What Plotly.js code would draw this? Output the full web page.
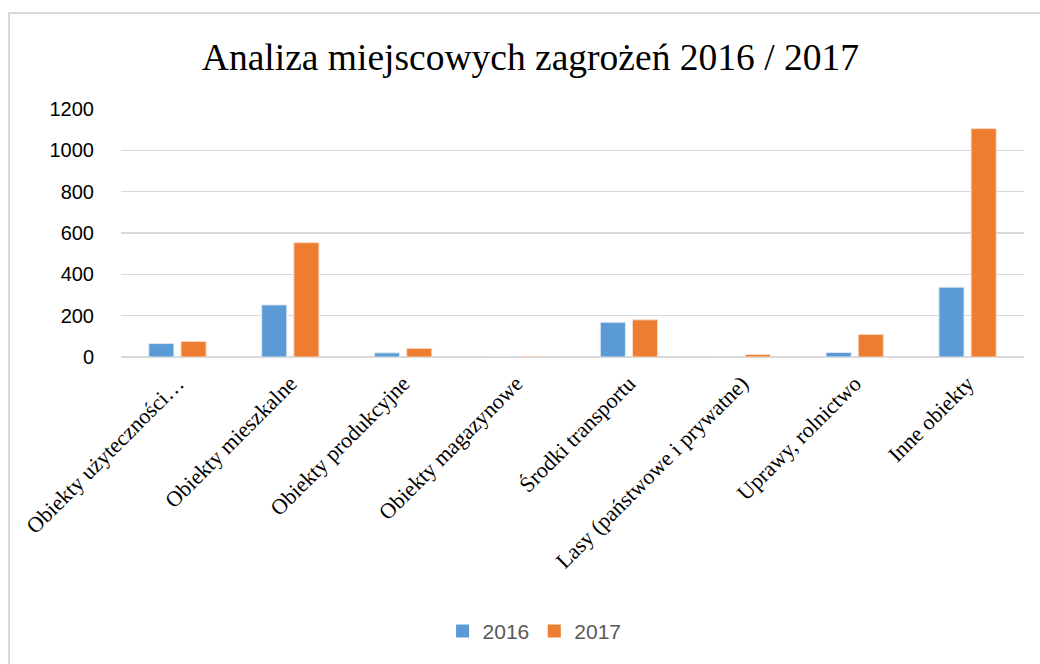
<!DOCTYPE html>
<html>
<head>
<meta charset="utf-8">
<script src="https://cdn.plot.ly/plotly-3.0.1.min.js"></script>
<style>
  body { margin: 0; background: #fff; }
  #graph { width: 1040px; height: 664px; }
  #frame {
    position: absolute; left: 8px; top: 12px; width: 1040px; height: 700px;
    border: 2px solid #d9d9d9; pointer-events: none;
  }
</style>
</head>
<body>
<div id="graph"></div>
<div id="frame"></div>
<script>
var categories = [
    "Obiekty użyteczności…",
    "Obiekty mieszkalne",
    "Obiekty produkcyjne",
    "Obiekty magazynowe",
    "Środki transportu",
    "Lasy (państwowe i prywatne)",
    "Uprawy, rolnictwo",
    "Inne obiekty"
];
var seriesNames = ["2016", "2017"];
var values2016 = [65, 252, 20, 2, 168, 1, 22, 338];
var values2017 = [75, 553, 42, 3, 180, 12, 109, 1105];
var colors = ['#5B9BD5', '#ED7D31'];

function drawGraph() {
    var trace2016, trace2017, key2016, key2017, data, layout;

    trace2016 = {
        x: categories,
        y: values2016,
        type: 'bar',
        name: seriesNames[0],
        showlegend: false,
        marker: { color: colors[0], line: { color: '#dbe8f5', width: 1 } }
    };

    trace2017 = {
        x: categories,
        y: values2017,
        type: 'bar',
        name: seriesNames[1],
        showlegend: false,
        marker: { color: colors[1], line: { color: '#fbd9c4', width: 1 } }
    };

    // legend keys only: bigger square swatches than the bar legend icon
    key2016 = {
        x: [null], y: [null], type: 'scatter', mode: 'markers',
        name: seriesNames[0],
        marker: { symbol: 'square', size: 13, color: colors[0] }
    };
    key2017 = {
        x: [null], y: [null], type: 'scatter', mode: 'markers',
        name: seriesNames[1],
        marker: { symbol: 'square', size: 13, color: colors[1] }
    };

    data = [trace2016, trace2017, key2016, key2017];

    layout = {
        width: 1040,
        height: 664,
        margin: { l: 121, r: 16, t: 109, b: 307 },
        paper_bgcolor: '#fff',
        plot_bgcolor: '#fff',
        barmode: 'group',
        bargap: 0.43,
        bargroupgap: 0.22,
        title: {
            text: "Analiza miejscowych zagrożeń 2016 / 2017",
            font: { family: 'Liberation Serif, Times New Roman, serif', size: 37.5, color: '#000' },
            x: 0.51,
            xanchor: 'center',
            y: 0.915,
            yanchor: 'middle'
        },
        yaxis: {
            range: [0, 1200],
            dtick: 200,
            showgrid: true,
            gridcolor: '#d9d9d9',
            gridwidth: 1.5,
            zeroline: true,
            zerolinecolor: '#d9d9d9',
            zerolinewidth: 1.5,
            showline: false,
            ticks: 'outside',
            ticklen: 22,
            tickcolor: 'rgba(0,0,0,0)',
            tickfont: { family: 'Liberation Sans, Arial, sans-serif', size: 20, color: '#000' },
            fixedrange: true
        },
        xaxis: {
            tickangle: -45,
            showline: false,
            ticks: 'outside',
            ticklen: 4,
            tickcolor: 'rgba(0,0,0,0)',
            tickfont: { family: 'Liberation Serif, Times New Roman, serif', size: 22, color: '#000' },
            fixedrange: true
        },
        showlegend: true,
        legend: {
            orientation: 'h',
            x: 0.458,
            xanchor: 'center',
            y: -1.106,
            yanchor: 'middle',
            font: { family: 'Liberation Sans, Arial, sans-serif', size: 21, color: '#595959' },
            itemwidth: 30
        }
    };

    Plotly.newPlot("graph", data, layout, { displayModeBar: false, staticPlot: true });
}

drawGraph();
</script>
</body>
</html>
